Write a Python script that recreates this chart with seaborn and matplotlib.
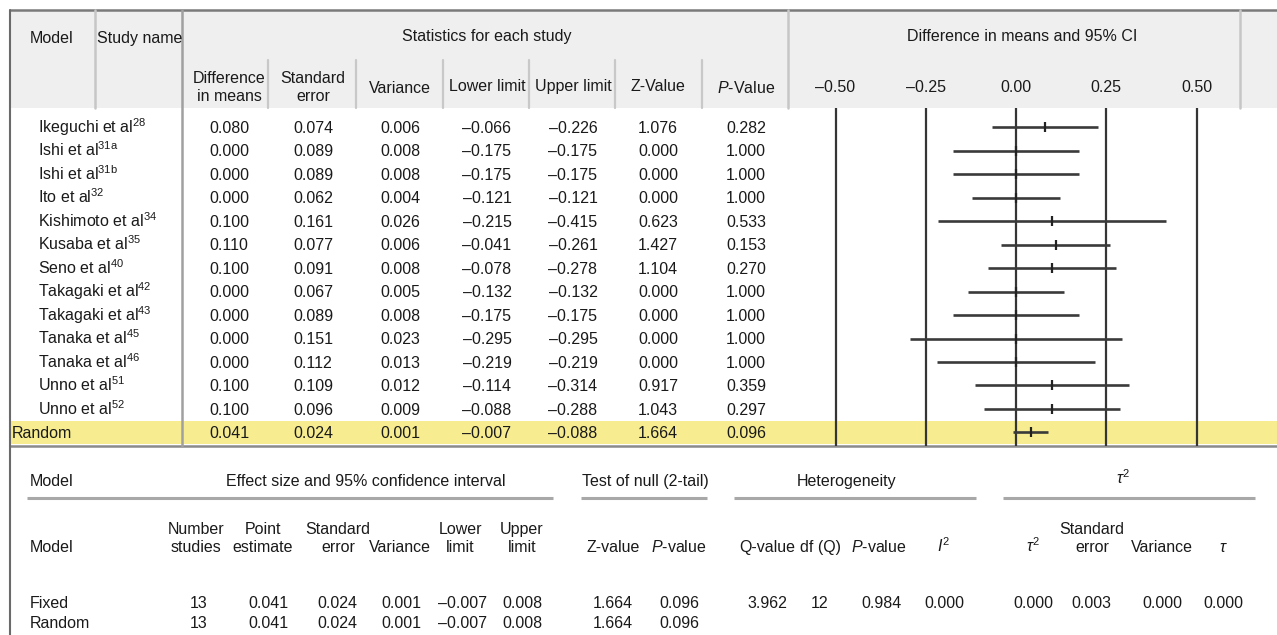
import numpy as np
import pandas as pd
import matplotlib
matplotlib.use('Agg')
import matplotlib.pyplot as plt
import seaborn as sns

sns.set_theme(style="white")
plt.rcParams['font.family'] = ['Liberation Sans', 'DejaVu Sans']
plt.rcParams['mathtext.fontset'] = 'custom'
plt.rcParams['mathtext.rm'] = 'Liberation Sans'
plt.rcParams['mathtext.it'] = 'Liberation Sans:italic'
plt.rcParams['mathtext.bf'] = 'Liberation Sans:bold'

# ==========================================
# DATA (read off the published table)
# ==========================================
study_names = [
    r"Ikeguchi et al$^{28}$", r"Ishi et al$^{\mathrm{31a}}$", r"Ishi et al$^{\mathrm{31b}}$",
    r"Ito et al$^{32}$", r"Kishimoto et al$^{34}$", r"Kusaba et al$^{35}$",
    r"Seno et al$^{40}$", r"Takagaki et al$^{42}$", r"Takagaki et al$^{43}$",
    r"Tanaka et al$^{45}$", r"Tanaka et al$^{46}$", r"Unno et al$^{51}$", r"Unno et al$^{52}$",
]
diff_means  = [0.080, 0.000, 0.000, 0.000, 0.100, 0.110, 0.100, 0.000, 0.000, 0.000, 0.000, 0.100, 0.100]
std_err     = [0.074, 0.089, 0.089, 0.062, 0.161, 0.077, 0.091, 0.067, 0.089, 0.151, 0.112, 0.109, 0.096]
variance    = [0.006, 0.008, 0.008, 0.004, 0.026, 0.006, 0.008, 0.005, 0.008, 0.023, 0.013, 0.012, 0.009]
lower_limit = [-0.066, -0.175, -0.175, -0.121, -0.215, -0.041, -0.078, -0.132, -0.175, -0.295, -0.219, -0.114, -0.088]
upper_limit = [-0.226, -0.175, -0.175, -0.121, -0.415, -0.261, -0.278, -0.132, -0.175, -0.295, -0.219, -0.314, -0.288]
z_value     = [1.076, 0.000, 0.000, 0.000, 0.623, 1.427, 1.104, 0.000, 0.000, 0.000, 0.000, 0.917, 1.043]
p_value     = [0.282, 1.000, 1.000, 1.000, 0.533, 0.153, 0.270, 1.000, 1.000, 1.000, 1.000, 0.359, 0.297]
# right end of each CI line as drawn in the forest panel
ci_high     = [0.226, 0.175, 0.175, 0.121, 0.415, 0.261, 0.278, 0.132, 0.175, 0.295, 0.219, 0.314, 0.288]

pooled_label = "Random"
pooled_stats = [0.041, 0.024, 0.001, -0.007, -0.088, 1.664, 0.096]
pooled_ci_high = 0.088

forest_ticks = [-0.50, -0.25, 0.00, 0.25, 0.50]

# summary table
summary_models = ["Fixed", "Random"]
n_studies  = [13, 13]
point_est  = [0.041, 0.041]
sum_se     = [0.024, 0.024]
sum_var    = [0.001, 0.001]
sum_lower  = [-0.007, -0.007]
sum_upper  = [0.008, 0.008]
sum_z      = [1.664, 1.664]
sum_p      = [0.096, 0.096]
het_values = [3.962, 12, 0.984, 0.000]      # Q-value, df(Q), P-value, I^2 (fixed row only)
tau_values = [0.000, 0.003, 0.000, 0.000]   # tau^2, SE, variance, tau (fixed row only)


def fmt(v):
    return f"{v:.3f}".replace('-', '\u2013')


# ==========================================
# LAYOUT (pixel space)
# ==========================================
W, H = 1277, 635
FS = 11.5
INK = '#1a1a1a'
fig = plt.figure(figsize=(W / 100, H / 100), dpi=100)
fig.patch.set_facecolor('white')
bg = fig.add_axes([0, 0, 1, 1])
bg.set_xlim(0, W)
bg.set_ylim(H, 0)
bg.axis('off')


def put(x, y, s, ha='center', size=FS):
    # y is the visual centre of capitals; convert to baseline
    bg.text(x, y + size * 0.51, s, ha=ha, va='baseline', fontsize=size, color=INK)


row0, row_h = 127, 23.5
top, head_bot, tab_bot = 10, 108, 446
n_rows = len(study_names) + 1

# header band + pooled highlight
bg.add_patch(plt.Rectangle((10, top), W - 10, head_bot - top, color='#efefef', lw=0, zorder=0))
pool_y = row0 + row_h * (n_rows - 1)
bg.add_patch(plt.Rectangle((10, pool_y - 11.5), W - 10, 23, color='#f7ed90', lw=0, zorder=0))

# borders
bg.plot([10, W], [top, top], color='#7a7a7a', lw=1.8)
bg.plot([10, W], [tab_bot, tab_bot], color='#8a8a8a', lw=1.8)
bg.plot([10, 10], [top, H], color='#6a6a6a', lw=1.5)
for x in (95, 788, 1240):
    bg.plot([x, x], [top, head_bot], color='#c6c6c6', lw=1.8)
bg.plot([182, 182], [top, tab_bot], color='#a0a0a0', lw=1.8)
for x in (268, 356, 443, 529, 615, 702):
    bg.plot([x, x], [60, head_bot], color='#c8c8c8', lw=1.6)

# header text
put(30, 37, "Model", ha='left')
put(97, 37, "Study name", ha='left')
put(487, 35, "Statistics for each study")
put(1022, 35, "Difference in means and 95% CI")
cols = [229, 313, 400, 487, 573, 658, 746]
put(cols[0], 77, "Difference"); put(cols[0], 95, "in means")
put(cols[1], 77, "Standard"); put(cols[1], 95, "error")
put(cols[2], 87, "Variance")
put(cols[3], 85, "Lower limit")
put(cols[4], 85, "Upper limit")
put(cols[5], 85, "Z-Value")
put(cols[6], 87, r"$\it{P}$-Value")

# study rows
for i, name in enumerate(study_names):
    y = row0 + row_h * i
    put(38, y, name, ha='left')
    vals = [diff_means[i], std_err[i], variance[i], lower_limit[i],
            upper_limit[i], z_value[i], p_value[i]]
    for x, v in zip(cols, vals):
        put(x, y, fmt(v))
put(12, pool_y, pooled_label, ha='left')
for x, v in zip(cols, pooled_stats):
    put(x, pool_y, fmt(v))

# ==========================================
# FOREST PANEL
# ==========================================
zero_px, unit_px = 1016, 361.0
fx0, fx1 = 788, 1240
fa = fig.add_axes([fx0 / W, 1 - tab_bot / H, (fx1 - fx0) / W, (tab_bot - head_bot) / H])
fa.set_facecolor('none')
fa.set_xlim((fx0 - zero_px) / unit_px, (fx1 - zero_px) / unit_px)
fa.set_ylim((tab_bot - row0) / row_h, (head_bot - row0) / row_h)
for s in fa.spines.values():
    s.set_visible(False)
fa.grid(False)

forest = pd.DataFrame({
    'row': np.arange(n_rows),
    'effect': diff_means + [pooled_stats[0]],
    'lo': lower_limit + [pooled_stats[3]],
    'hi': ci_high + [pooled_ci_high],
})
for t in forest_ticks:
    fa.axvline(t, color='#353535', lw=1.6, zorder=1)
fa.hlines(forest['row'], forest['lo'], forest['hi'], color='#3a3a3a', lw=1.9, zorder=2)
sns.scatterplot(data=forest, x='effect', y='row', marker='|', s=45, linewidth=1.6,
                color='#222222', ax=fa, zorder=3, legend=False)
fa.set_xlabel('')
fa.set_ylabel('')
fa.set_yticks([])
fa.set_xticks(forest_ticks)
fa.set_xticklabels([f"{t:.2f}".replace('-', '\u2013') for t in forest_ticks])
fa.xaxis.tick_top()
fa.tick_params(axis='x', length=0, pad=9.0, labelsize=FS, labelcolor=INK)

# ==========================================
# SUMMARY TABLE
# ==========================================
hy, uy, s1, s2 = 480, 498, 528, 546
put(30, hy, "Model", ha='left')
put(366, hy, "Effect size and 95% confidence interval")
put(645, hy, "Test of null (2-tail)")
put(847, hy, "Heterogeneity")
put(1123, hy - 2, r"$\tau^2$")
for a, b in ((27, 553), (581, 707), (734, 976), (1003, 1255)):
    bg.plot([a, b], [uy, uy], color='#a8a8a8', lw=2.2, solid_capstyle='butt')

put(30, s2, "Model", ha='left')
put(196, s1, "Number"); put(196, s2, "studies")
put(263, s1, "Point"); put(263, s2, "estimate")
put(338, s1, "Standard"); put(338, s2, "error")
put(400, s2, "Variance")
put(460, s1, "Lower"); put(460, s2, "limit")
put(522, s1, "Upper"); put(522, s2, "limit")
put(613, s2, "Z-value")
put(679, s2, r"$\it{P}$-value")
put(767, s2, "Q-value")
put(820, s2, "df (Q)")
put(879, s2, r"$\it{P}$-value")
put(944, s2, r"$\it{I}^2$")
put(1033, s2, r"$\tau^2$")
put(1092, s1, "Standard"); put(1092, s2, "error")
put(1162, s2, "Variance")
put(1223, s2, r"$\tau$")

sum_cols = [199, 268, 337, 401, 463, 522, 613, 679]
for j, m in enumerate(summary_models):
    y = 602 + 20 * j
    put(30, y, m, ha='left')
    put(sum_cols[0], y, str(n_studies[j]))
    for x, v in zip(sum_cols[1:], [point_est[j], sum_se[j], sum_var[j], sum_lower[j],
                                   sum_upper[j], sum_z[j], sum_p[j]]):
        put(x, y, fmt(v))
put(767, 602, fmt(het_values[0]))
put(820, 602, str(het_values[1]))
put(882, 602, fmt(het_values[2]))
put(944, 602, fmt(het_values[3]))
for x, v in zip([1033, 1091, 1162, 1223], tau_values):
    put(x, 602, fmt(v))

fig.savefig("out.png", dpi=100, facecolor='white')
